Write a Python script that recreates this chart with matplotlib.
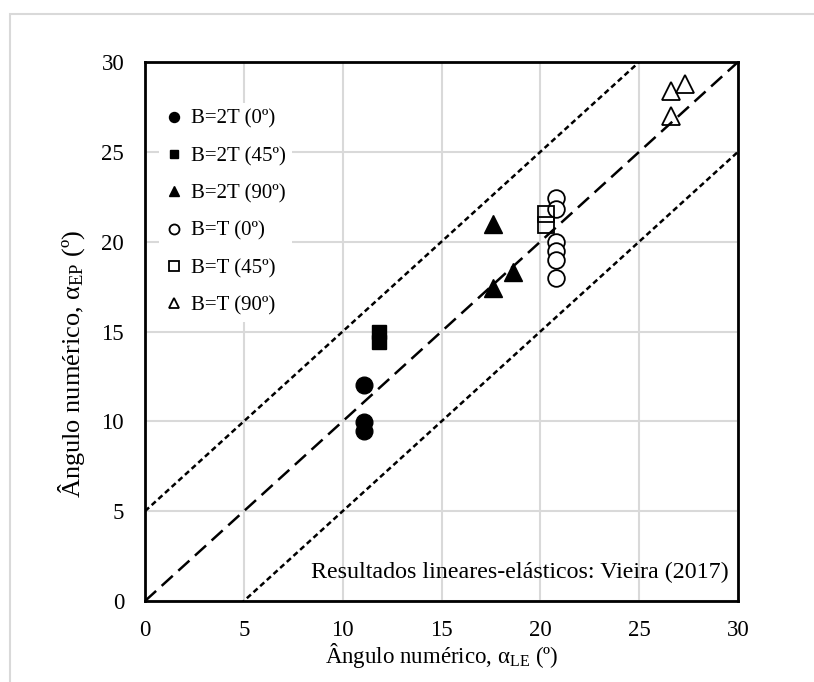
import numpy as np
import matplotlib
matplotlib.use("Agg")
import matplotlib.pyplot as plt
from matplotlib.patches import Rectangle

plt.rcParams["font.family"] = ["Liberation Serif", "DejaVu Serif"]
plt.rcParams["mathtext.fontset"] = "custom"
plt.rcParams["mathtext.rm"] = "Liberation Serif"
plt.rcParams["mathtext.it"] = "Liberation Serif:italic"

# ── data ────────────────────────────────────────────────────────────────────
b2t_0_x = [11.1, 11.1, 11.1]
b2t_0_y = [12.0, 9.95, 9.45]
b2t_45_x = [11.85, 11.85]
b2t_45_y = [15.0, 14.4]
b2t_90_x = [17.6, 18.6, 17.6]
b2t_90_y = [21.0, 18.3, 17.4]
bt_0_x = [20.8, 20.8, 20.8, 20.8, 20.8, 20.8]
bt_0_y = [22.45, 21.8, 20.0, 19.5, 19.0, 18.0]
bt_45_x = [20.3, 20.3]
bt_45_y = [21.55, 20.95]
bt_90_x = [26.6, 27.3, 26.6]
bt_90_y = [28.4, 28.75, 27.0]

ticks = [0, 5, 10, 15, 20, 25, 30]
ref_line = [0, 30]

W, H = 814, 682
fig = plt.figure(figsize=(W / 100, H / 100), dpi=100, facecolor="white")

# light frame around the chart area
fig.patches.append(Rectangle((10 / W, -0.1), 1.1, 1 - 14 / H + 0.1, transform=fig.transFigure,
                             fill=False, edgecolor="#d9d9d9", linewidth=1.5, zorder=0))

ax = fig.add_axes([145 / W, (H - 601) / H, 593 / W, 539 / H])
ax.set_xlim(0, 30)
ax.set_ylim(0, 30)
ax.set_xticks(ticks)
ax.set_yticks(ticks)
ax.tick_params(length=0, labelsize=16.5)
ax.tick_params(axis="y", pad=15)
ax.tick_params(axis="x", pad=14)
ax.grid(True, color="#d9d9d9", linewidth=1.5)
ax.set_axisbelow(True)
for s in ax.spines.values():
    s.set_linewidth(2)
    s.set_color("black")

# 1:1 and ±5° bands
ax.plot(ref_line, ref_line, color="black", linewidth=1.8, dashes=(6, 3), zorder=2)
ax.plot(ref_line, [v + 5 for v in ref_line], color="black", linewidth=1.8, dashes=(2.2, 1.4), zorder=2)
ax.plot(ref_line, [v - 5 for v in ref_line], color="black", linewidth=1.8, dashes=(2.2, 1.4), zorder=2)

ax.plot(b2t_0_x, b2t_0_y, "o", color="black", ms=12, ls="none", label="B=2T (0º)", zorder=3)
ax.plot(b2t_45_x, b2t_45_y, "s", color="black", ms=10.5, ls="none", label="B=2T (45º)", zorder=3)
ax.plot(b2t_90_x, b2t_90_y, "^", color="black", ms=12.5, ls="none", label="B=2T (90º)", zorder=3)
ax.plot(bt_0_x, bt_0_y, "o", mfc="white", mec="black", mew=1.3, ms=12, ls="none",
        label="B=T (0º)", zorder=3)
ax.plot(bt_45_x, bt_45_y, "s", mfc="none", mec="black", mew=1.3, ms=11, ls="none",
        label="B=T (45º)", zorder=3)
ax.plot(bt_90_x, bt_90_y, "^", mfc="none", mec="black", mew=1.3, ms=12.5, ls="none",
        label="B=T (90º)", zorder=3)

leg = ax.legend(loc="upper left", bbox_to_anchor=(0.006, 0.943), frameon=True, fontsize=15,
                markerscale=0.6, handlelength=0.8, handletextpad=0.45, labelspacing=0.85,
                borderpad=0.3)
leg.get_frame().set_edgecolor("none")
leg.get_frame().set_facecolor("white")
leg.get_frame().set_alpha(1)

ax.text(0.985, 0.042, "Resultados lineares-elásticos: Vieira (2017)", transform=ax.transAxes,
        ha="right", va="baseline", fontsize=17.3)

ax.set_xlabel("Ângulo numérico, α$_{\\mathrm{LE}}$ (º)", fontsize=16.5)
ax.xaxis.set_label_coords(0.5, -0.075)
ax.set_ylabel("Ângulo numérico, α$_{\\mathrm{EP}}$ (º)", fontsize=19)
ax.yaxis.set_label_coords(-0.097, 0.44)

plt.savefig("out.png", dpi=100)
plt.close()
